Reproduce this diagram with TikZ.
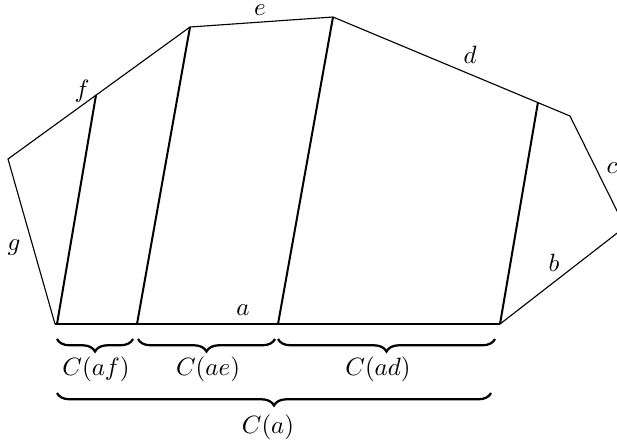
\documentclass[tikz,border=0pt]{standalone}
\usetikzlibrary{decorations.pathreplacing}
\begin{document}
\begin{tikzpicture}[x=0.4pt,y=-0.4pt,
  edge/.style={line width=0.45pt},
  chord/.style={line width=0.8pt},
  br/.style={decorate,decoration={brace,amplitude=5pt,mirror},line width=0.9pt},
  lab/.style={inner sep=0pt}]
\useasboundingbox (0,0) rectangle (617,443);
% polygon vertices
\coordinate (A) at (55,324);
\coordinate (G) at (8,159);
\coordinate (E) at (190,27);
\coordinate (D) at (333,17);
\coordinate (Cv) at (570,116);
\coordinate (R) at (625,227);
\coordinate (B) at (500,324);
% chord feet and tops
\coordinate (P1) at (57,324);
\coordinate (F) at (96,95);
\coordinate (P2) at (137,324);
\coordinate (P3) at (278,324);
\coordinate (Q) at (538,102);
% polygon
\draw[edge] (A) -- (G) -- (E) -- (D) -- (Cv) -- (R) -- (B);
\draw[chord] (A) -- (B);
% chords
\draw[chord] (P1) -- (F);
\draw[chord] (P2) -- (E);
\draw[chord] (P3) -- (D);
\draw[chord] (B) -- (Q);
% edge labels
\node[lab] (la) at (243,310) {$a$};
\node[lab] (lb) at (554,263) {$b$};
\node[lab] (lc) at (612,168) {$c$};
\node[lab] (ld) at (470,55) {$d$};
\node[lab] (le) at (260,10.5) {$e$};
\node[lab] (lf) at (82,91) {$f$};
\node[lab] (lg) at (14,248) {$g$};
% braces
\coordinate (b1s) at (57,339);  \coordinate (b1e) at (133,339);
\coordinate (b2s) at (138,339); \coordinate (b2e) at (275,339);
\coordinate (b3s) at (278,339); \coordinate (b3e) at (495,339);
\coordinate (b4s) at (57,393);  \coordinate (b4e) at (491,393);
\draw[br] (b1s) -- (b1e);
\draw[br] (b2s) -- (b2e);
\draw[br] (b3s) -- (b3e);
\draw[br] (b4s) -- (b4e);
\node[lab] (caf) at (96,369) {$C(af)$};
\node[lab] (cae) at (208,369) {$C(ae)$};
\node[lab] (cad) at (378,369) {$C(ad)$};
\node[lab] (ca) at (268,427) {$C(a)$};
\end{tikzpicture}
\end{document}
